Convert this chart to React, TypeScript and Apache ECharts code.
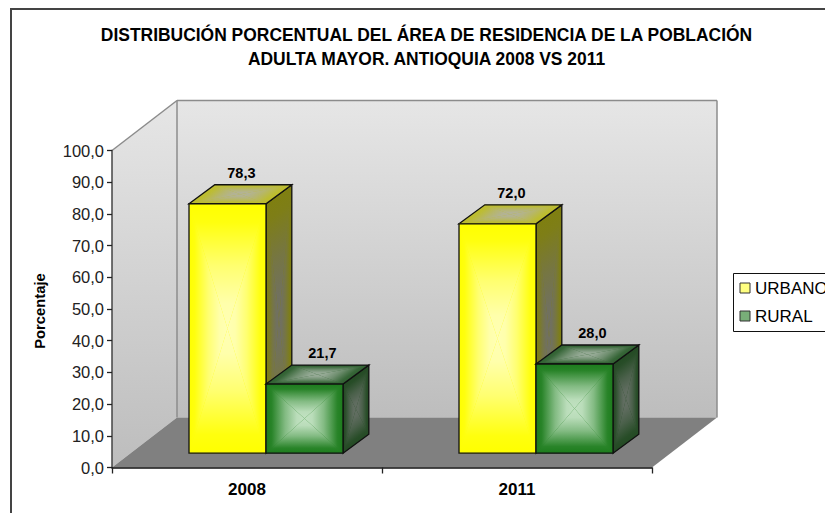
import React, { useEffect, useRef } from "react";
import * as echarts from "echarts";

const categories = ["2008", "2011"];
const urbano = [78.3, 72.0];
const rural = [21.7, 28.0];
const titleLines = "DISTRIBUCIÓN PORCENTUAL DEL ÁREA DE RESIDENCIA DE LA POBLACIÓN\nADULTA MAYOR. ANTIOQUIA 2008 VS 2011";

const FONT = "'Liberation Sans', Arial, sans-serif";
const fmt = (v: number) => v.toFixed(1).replace(".", ",");

type P = [number, number];

function tri(a: P, b: P, c: P, edge: string, center: string, z: number) {
  const dx = b[0] - a[0], dy = b[1] - a[1];
  const t = ((c[0] - a[0]) * dx + (c[1] - a[1]) * dy) / (dx * dx + dy * dy);
  const fx = a[0] + t * dx, fy = a[1] + t * dy;
  const mix = (m: number) => echarts.color.lerp(m, [edge, center]);
  return {
    type: "polygon", z2: z, silent: true,
    shape: { points: [a, b, c] },
    style: {
      fill: new echarts.graphic.LinearGradient(fx, fy, c[0], c[1], [
        { offset: 0, color: edge },
        { offset: 0.15, color: mix(0.08) },
        { offset: 0.5, color: mix(0.62) },
        { offset: 0.8, color: mix(0.95) },
        { offset: 1, color: center },
      ], true),
      stroke: null,
    },
  };
}

function face(pts: P[], edge: string, center: string, z: number) {
  const c: P = [(pts[0][0] + pts[2][0]) / 2, (pts[0][1] + pts[2][1]) / 2];
  const items: any[] = [
    { type: "polygon", z2: z, silent: true, shape: { points: pts }, style: { fill: edge, stroke: null } },
  ];
  for (let i = 0; i < 4; i++) items.push(tri(pts[i], pts[(i + 1) % 4], c, edge, center, z));
  items.push({
    type: "polygon", z2: z, silent: true, shape: { points: pts },
    style: { fill: "none", stroke: "#111", lineWidth: 1.3 },
  });
  return items;
}

const makeRender = (offset: number, pal: any, labelDx: number) => (params: any, api: any) => {
  const i = api.value(0);
  const val = api.value(1);
  const base = api.coord([i, 0]);
  const top = api.coord([i, val]);
  const band = api.size([1, 0])[0];
  const w = band * 0.2852;
  const sx = band * 0.0704, sy = band * 0.053;
  const dx = band * 0.0956, dy = band * 0.0704;
  const x0 = base[0] + sx + offset * w;
  const x1 = x0 + w;
  const yb = base[1] - sy;
  const yt = yb - (base[1] - top[1]) * 1.005;
  const children = [
    ...face([[x1, yt], [x1 + dx, yt - dy], [x1 + dx, yb - dy], [x1, yb]], pal.sideE, pal.sideC, 1),
    ...face([[x0, yt], [x0 + dx, yt - dy], [x1 + dx, yt - dy], [x1, yt]], pal.topE, pal.topC, 2),
    ...face([[x0, yt], [x1, yt], [x1, yb], [x0, yb]], pal.frontE, pal.frontC, 3),
    {
      type: "text", z2: 5, silent: true,
      style: {
        x: (x0 + x1 + dx) / 2 + labelDx, y: yt - dy - 12,
        text: fmt(val), fill: "#000", font: `bold 14.5px ${FONT}`,
        align: "center", verticalAlign: "middle",
      },
    },
  ];
  return { type: "group", children };
};

const yellow = { frontE: "#ffff00", frontC: "#ffffb4", sideE: "#7f7f10", sideC: "#707062", topE: "#bdbd2a", topC: "#b2b298" };
const green = { frontE: "#1c7c1c", frontC: "#c2e2c2", sideE: "#234a23", sideC: "#626e62", topE: "#2f6030", topC: "#98ac98" };

export default function App() {
  const ref = useRef<HTMLDivElement>(null);
  useEffect(() => {
    document.body.style.margin = "0";
    const chart = echarts.init(ref.current!, null, { renderer: "svg" });
    const L = 112, R = 652, T = 150.5, B = 467.5, DX = 65, DY = 50;
    const line = (a: number[], b: number[]) => ({
      type: "line", z: -1, shape: { x1: a[0], y1: a[1], x2: b[0], y2: b[1] },
      style: { stroke: "#8c8c8c", lineWidth: 1.5 },
    });
    const wall = new echarts.graphic.LinearGradient(0, 0, 0, 1, [
      { offset: 0, color: "#e6e6e6" }, { offset: 1, color: "#bdbdbd" },
    ]);
    chart.setOption({
      animation: false,
      backgroundColor: "#fff",
      title: {
        text: titleLines, left: 421.5, top: 18.5, textAlign: "center",
        textStyle: { fontFamily: FONT, fontSize: 17.45, fontWeight: "bold", color: "#000", lineHeight: 23.5 },
      },
      legend: {
        left: 733.5, top: 273.5, orient: "vertical",
        padding: [6, 60, 7, 6], itemWidth: 10, itemHeight: 10, itemGap: 11,
        borderColor: "#111", borderWidth: 1, backgroundColor: "#fff", icon: "rect",
        textStyle: { fontFamily: FONT, fontSize: 17, color: "#000", padding: [0, 0, 0, 0] },
        itemStyle: { borderColor: "#333", borderWidth: 1 },
        data: [
          { name: "URBANO", itemStyle: { color: "#ffff80" } },
          { name: "RURAL", itemStyle: { color: "#78ae78" } },
        ],
      },
      grid: { left: L, top: T, width: R - L, height: B - T },
      xAxis: {
        type: "category", data: categories, z: 3,
        axisLine: { lineStyle: { color: "#111", width: 1.5 } },
        axisTick: { show: true, alignWithLabel: false, length: 6, lineStyle: { color: "#222", width: 1.3 } },
        axisLabel: { fontFamily: FONT, fontSize: 17, fontWeight: "bold", color: "#000", margin: 13 },
      },
      yAxis: {
        type: "value", min: 0, max: 100, interval: 10, z: 3,
        name: "Porcentaje", nameLocation: "middle", nameGap: 65,
        nameTextStyle: { fontFamily: FONT, fontSize: 14.8, fontWeight: "bold", color: "#000", padding: [0, 4, 0, 0] },
        axisLine: { show: true, lineStyle: { color: "#444", width: 1.5 } },
        axisTick: { show: true, length: 5, lineStyle: { color: "#222", width: 1.3 } },
        axisLabel: { fontFamily: FONT, fontSize: 16.5, color: "#222", margin: 8, formatter: (v: number) => fmt(v) },
        splitLine: { show: false },
      },
      series: [
        { type: "custom", name: "URBANO", data: categories.map((_, i) => [i, urbano[i]]), encode: { x: 0, y: 1 }, z: 4, renderItem: makeRender(-1, yellow, 1), itemStyle: { color: "#ffff80" } },
        { type: "custom", name: "RURAL", data: categories.map((_, i) => [i, rural[i]]), encode: { x: 0, y: 1 }, z: 5, renderItem: makeRender(0, green, 5), itemStyle: { color: "#78ae78" } },
      ],
      graphic: [
        { type: "rect", z: -2, shape: { x: 11, y: 9, width: 900, height: 600 }, style: { fill: "#fff", stroke: "#444", lineWidth: 2 } },
        { type: "polygon", z: -1, shape: { points: [[L, T], [L + DX, T - DY], [L + DX, B - DY], [L, B]] }, style: { fill: wall } },
        { type: "polygon", z: -1, shape: { points: [[L + DX, T - DY], [R + DX, T - DY], [R + DX, B - DY], [L + DX, B - DY]] }, style: { fill: wall } },
        { type: "polygon", z: -1, shape: { points: [[L, B], [L + DX, B - DY], [R + DX, B - DY], [R, B]] }, style: { fill: "#808080" } },
        line([L, T], [L + DX, T - DY]),
        line([L + DX, T - DY], [R + DX, T - DY]),
        line([R + DX, T - DY], [R + DX, B - DY]),
        line([L + DX, T - DY], [L + DX, B - DY]),
      ],
    });
    return () => chart.dispose();
  }, []);
  return <div ref={ref} style={{ width: 825, height: 513 }} />;
}
